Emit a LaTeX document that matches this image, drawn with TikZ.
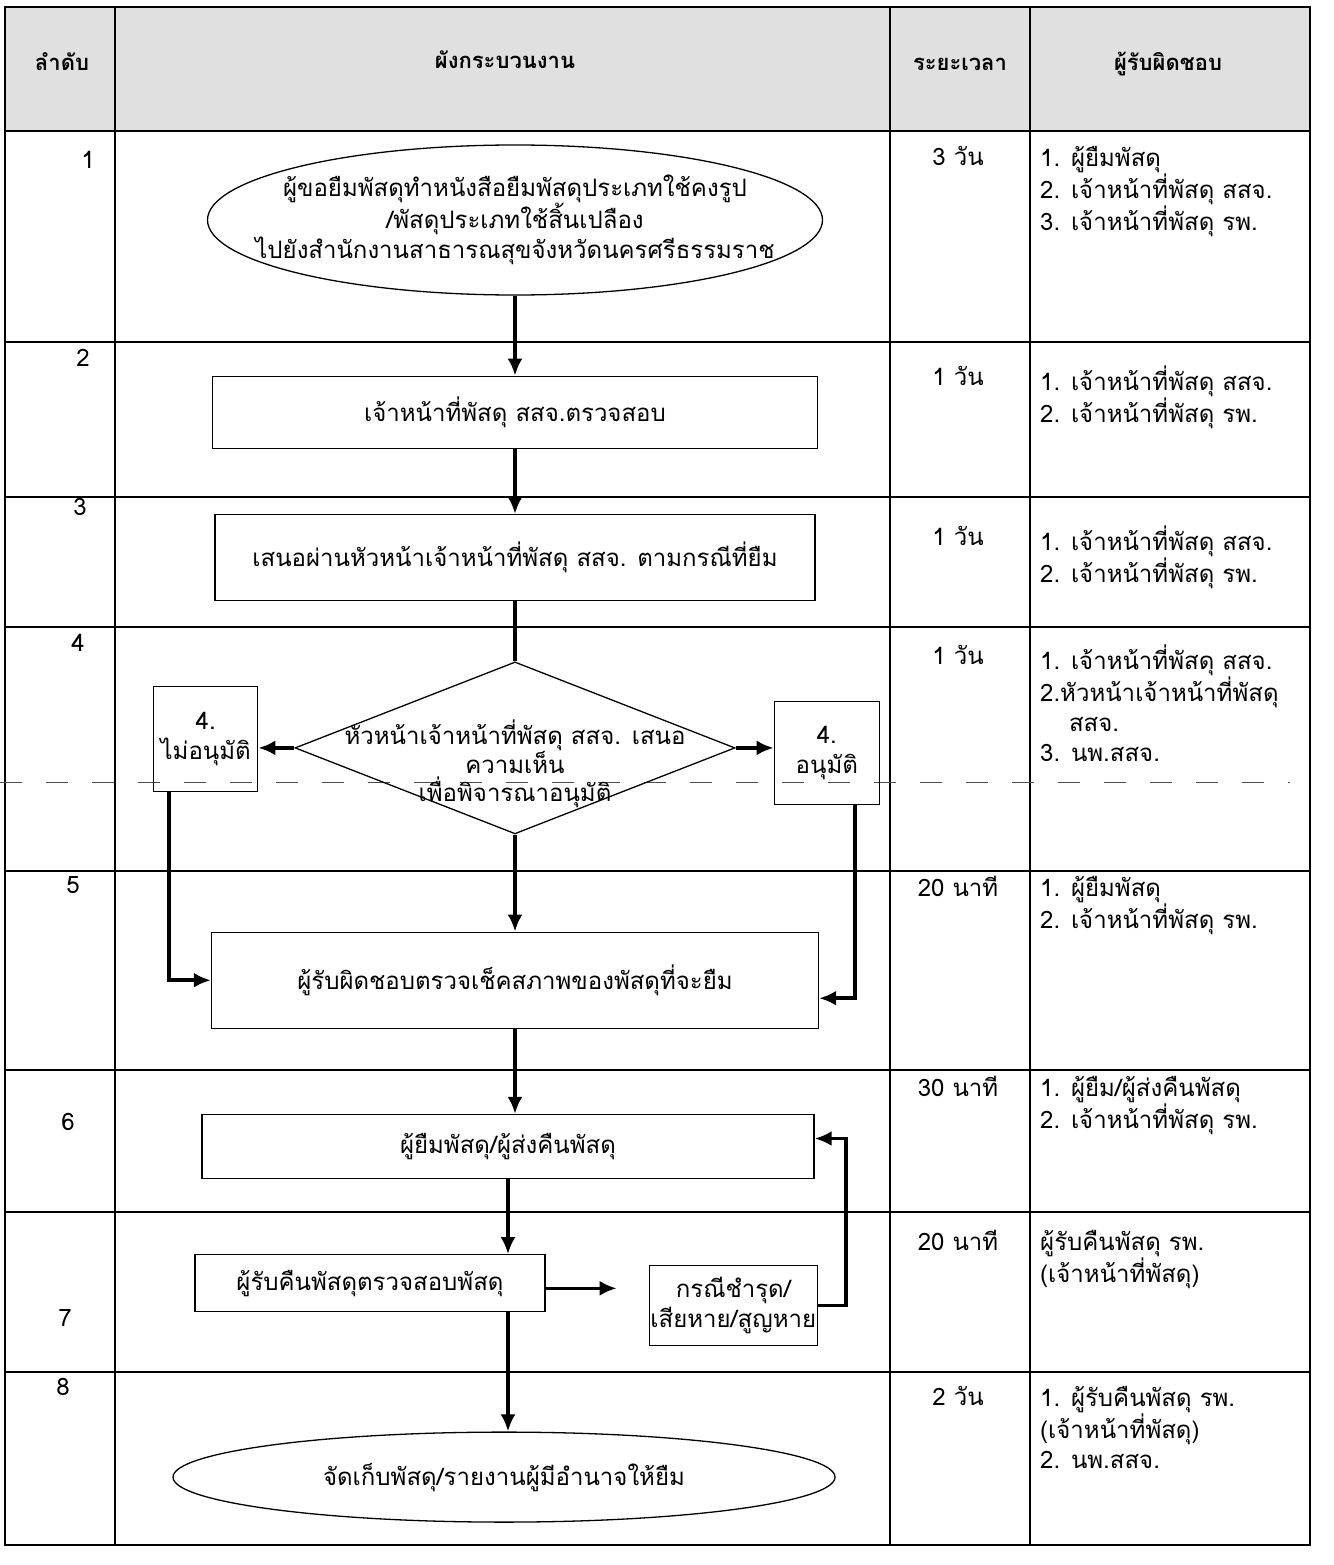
\documentclass[tikz,border=0pt]{standalone}
\usepackage{fontspec}
\newfontfamily\thai[Script=Thai]{Loma}
\usepackage{tikz}
\usetikzlibrary{arrows.meta}
\usetikzlibrary{positioning}
\usetikzlibrary{shapes.geometric}

\begin{document}
\begin{tikzpicture}
[
	x = 1pt, y = -1pt,
	txt/.style	= {font = \thai\fontsize{24}{30}\selectfont, inner sep = 0pt},
	hdr/.style	= {txt, font = \thai\bfseries\fontsize{22}{29}\selectfont},
	proc/.style	= {txt, rectangle, draw, line width = 1.3pt, align = center},
	term/.style	= {proc, ellipse, inner xsep = -60pt},
	decide/.style	= {draw, diamond, line width = 1.3pt, minimum width = 440pt, minimum height = 172pt, inner sep = 0pt},
	cell/.style	= {txt, anchor = north west, align = left},
	dur/.style	= {txt, anchor = north},
	tline/.style	= {line width = 1.2pt},
	link/.style	= {-{Latex[length = 17pt, width = 15pt]}, line width = 3.5pt},
]

	\useasboundingbox (0,0) rectangle (1333,1565);

	% table
	\fill [black!12] (5,7) rectangle (1310,131);
	\draw [tline] (5,7) rectangle (1310,1545);
	\foreach \x in {115, 890, 1030}
		\draw [tline] (\x,7) -- (\x,1545);
	\foreach \y in {131, 342, 497, 627, 871, 1070, 1212, 1372}
		\draw [tline] (5,\y) -- (1310,\y);
	\draw [black!70, line width = 0.8pt, dash pattern = on 22pt off 24pt] (0,782) -- (1290,782);

	\node (h1) [hdr] at (62,62) {ลำดับ};
	\node (h2) [hdr] at (505,60) {ผังกระบวนงาน};
	\node (h3) [hdr] at (960,64) {ระยะเวลา};
	\node (h4) [hdr] at (1168,64) {ผู้รับผิดชอบ};
	%
	\node (n1) [txt] at (88,160) {1};
	\node (n2) [txt] at (83,358) {2};
	\node (n3) [txt] at (80,507) {3};
	\node (n4) [txt] at (78,643) {4};
	\node (n5) [txt] at (73,885) {5};
	\node (n6) [txt] at (68,1122) {6};
	\node (n7) [txt] at (65,1318) {7};
	\node (n8) [txt] at (63,1387) {8};

	% flow
	\node (start) [term, minimum width = 615pt, minimum height = 150pt] at (515,220) {ผู้ขอยืมพัสดุทำหนังสือยืมพัสดุประเภทใช้คงรูป\\/พัสดุประเภทใช้สิ้นเปลือง\\ไปยังสำนักงานสาธารณสุขจังหวัดนครศรีธรรมราช};
	\node (chk) [proc, minimum width = 605pt, minimum height = 72pt, below = 80pt of start] {เจ้าหน้าที่พัสดุ สสจ.ตรวจสอบ};
	\node (prop) [proc, minimum width = 600pt, minimum height = 86pt, below = 65pt of chk] {เสนอผ่านหัวหน้าเจ้าหน้าที่พัสดุ สสจ. ตามกรณีที่ยืม};
	\node (dec) [decide, below = 60pt of prop] {};
	\node (dectxt) [txt, align = center, font = \thai\fontsize{24}{28}\selectfont] at ([yshift = -16pt]dec.center) {หัวหน้าเจ้าหน้าที่พัสดุ สสจ. เสนอ\\ความเห็น\\เพื่อพิจารณาอนุมัติ};
	\node (no) [proc, minimum width = 104pt, minimum height = 105pt, left = 36pt of dec, yshift = 9pt] {4.\\ไม่อนุมัติ};
	\node (yes) [proc, minimum width = 105pt, minimum height = 103pt, right = 38pt of dec, yshift = -5pt] {4.\\อนุมัติ};
	\node (chk5) [proc, minimum width = 607pt, minimum height = 96pt, below = 97pt of dec] {ผู้รับผิดชอบตรวจเช็คสภาพของพัสดุที่จะยืม};
	\node (ret) [proc, minimum width = 612pt, minimum height = 64pt, below = 85pt of chk5, xshift = -7pt] {ผู้ยืมพัสดุ/ผู้ส่งคืนพัสดุ};
	\node (recv) [proc, minimum width = 350pt, minimum height = 57pt, below = 75pt of ret, xshift = -138pt] {ผู้รับคืนพัสดุตรวจสอบพัสดุ};
	\node (dmg) [proc, minimum width = 168pt, minimum height = 80pt, right = 103pt of recv, yshift = -22pt] {กรณีชำรุด/\\เสียหาย/สูญหาย};
	\node (end) [term, minimum width = 662pt, minimum height = 90pt, below = 119pt of recv, xshift = 134pt] {จัดเก็บพัสดุ/รายงานผู้มีอำนาจให้ยืม};

	\draw [link] (start) -- (chk);
	\draw [link] (chk) -- (prop);
	\draw [line width = 3.5pt] (prop) -- (dec);
	%
	\draw [link] (dec.west) -- (dec.west -| no.east);
	\draw [link] (dec.east) -- (dec.east -| yes.west);
	\draw [link] (dec) -- (chk5);
	\draw [link] ([xshift = 16pt]no.south west) |- (chk5.west);
	\draw [link] ([xshift = -25pt]yes.south east) |- ([yshift = -18pt]chk5.east);
	%
	\draw [link] (chk5.south) -- (chk5.south |- ret.north);
	\draw [link] (ret.south) -- (ret.south |- recv.north);
	\draw [link, shorten > = 32pt] ([yshift = -5pt]recv.east) -- ([yshift = -5pt]recv.east -| dmg.west);
	\draw [link] (dmg.east) -- ++(28,0) |- ([yshift = 8pt]ret.east);
	\draw [link] (ret.south |- recv.south) -- (ret.south |- end.north);

	% time and staff
	\node (t1) [dur] at (958,146) {3 วัน};
	\node (t2) [dur] at (958,366) {1 วัน};
	\node (t3) [dur] at (958,526) {1 วัน};
	\node (t4) [dur] at (958,645) {1 วัน};
	\node (t5) [dur] at (958,876) {20 นาที};
	\node (t6) [dur] at (958,1076) {30 นาที};
	\node (t7) [dur] at (958,1230) {20 นาที};
	\node (t8) [dur] at (958,1386) {2 วัน};
	%
	\node (r1) [cell] at (1040,146) {1. ผู้ยืมพัสดุ\\2. เจ้าหน้าที่พัสดุ สสจ.\\3. เจ้าหน้าที่พัสดุ รพ.};
	\node (r2) [cell] at (1040,366) {1. เจ้าหน้าที่พัสดุ สสจ.\\2. เจ้าหน้าที่พัสดุ รพ.};
	\node (r3) [cell] at (1040,526) {1. เจ้าหน้าที่พัสดุ สสจ.\\2. เจ้าหน้าที่พัสดุ รพ.};
	\node (r4) [cell] at (1040,645) {1. เจ้าหน้าที่พัสดุ สสจ.\\2.หัวหน้าเจ้าหน้าที่พัสดุ\\\hspace*{1.2em}สสจ.\\3. นพ.สสจ.};
	\node (r5) [cell] at (1040,876) {1. ผู้ยืมพัสดุ\\2. เจ้าหน้าที่พัสดุ รพ.};
	\node (r6) [cell] at (1040,1076) {1. ผู้ยืม/ผู้ส่งคืนพัสดุ\\2. เจ้าหน้าที่พัสดุ รพ.};
	\node (r7) [cell] at (1040,1230) {ผู้รับคืนพัสดุ รพ.\\(เจ้าหน้าที่พัสดุ)};
	\node (r8) [cell] at (1040,1386) {1. ผู้รับคืนพัสดุ รพ.\\(เจ้าหน้าที่พัสดุ)\\2. นพ.สสจ.};

\end{tikzpicture}
\end{document}
